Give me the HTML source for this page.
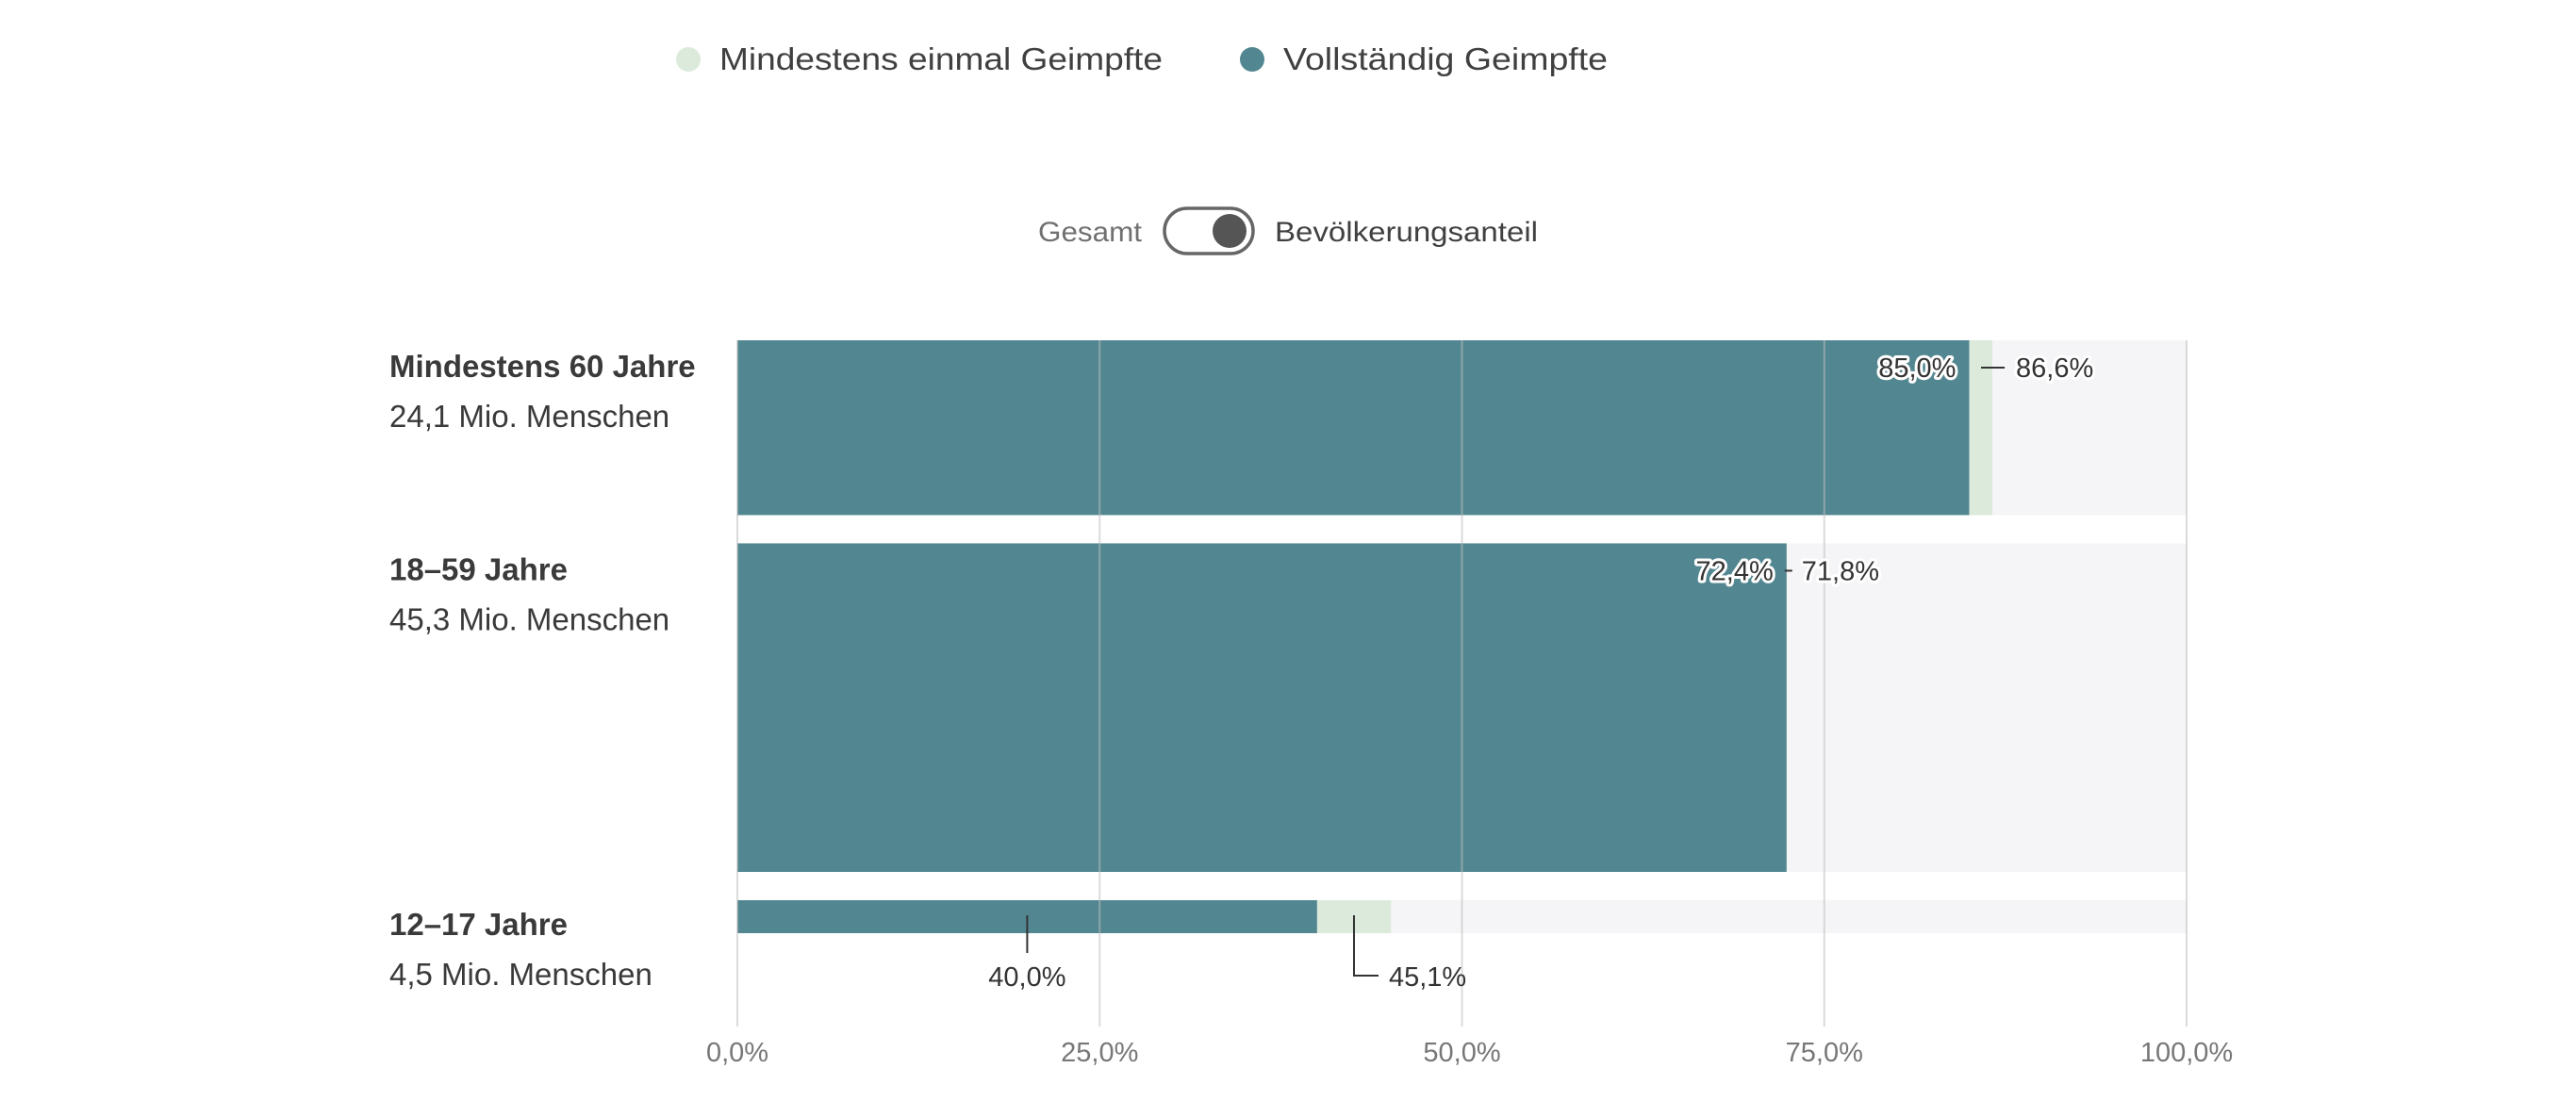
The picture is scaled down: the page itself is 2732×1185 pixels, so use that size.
<!DOCTYPE html>
<html><head><meta charset="utf-8"><style>
html,body{margin:0;padding:0;background:#fff;}
svg{display:block;font-family:"Liberation Sans",sans-serif;}
</style></head><body>
<svg id="chart" width="2732" height="1185" viewBox="0 0 2732 1185">
<g>
  <circle cx="730" cy="63" r="13" fill="#dbeadb"/>
  <text x="763" y="74" font-size="33" fill="#404040" textLength="470" lengthAdjust="spacingAndGlyphs">Mindestens einmal Geimpfte</text>
  <circle cx="1328" cy="63" r="13" fill="#528791"/>
  <text x="1361" y="74" font-size="33" fill="#404040" textLength="344" lengthAdjust="spacingAndGlyphs">Vollständig Geimpfte</text>
</g>
<g>
  <text x="1101" y="256" font-size="30" fill="#707070" textLength="110" lengthAdjust="spacingAndGlyphs">Gesamt</text>
  <rect x="1235" y="221" width="94" height="48" rx="24" fill="#fff" stroke="#666" stroke-width="3.5"/>
  <circle cx="1304" cy="245" r="18" fill="#555"/>
  <text x="1352" y="256" font-size="30" fill="#404040" textLength="279" lengthAdjust="spacingAndGlyphs">Bevölkerungsanteil</text>
</g>
<g id="plot"></g>
</svg>
<script>
const categories = ["Mindestens 60 Jahre", "18–59 Jahre", "12–17 Jahre"];
const populations = ["24,1 Mio. Menschen", "45,3 Mio. Menschen", "4,5 Mio. Menschen"];
const popValues = [24.1, 45.3, 4.5];
const firstDose = [86.6, 71.8, 45.1];
const fullyVaccinated = [85.0, 72.4, 40.0];
const tickValues = [0, 25, 50, 75, 100];
const tickLabels = ["0,0%", "25,0%", "50,0%", "75,0%", "100,0%"];

const NS = "http://www.w3.org/2000/svg";
const plot = document.getElementById("plot");
const X0 = 782, X1 = 2319;
const xs = v => X0 + v / 100 * (X1 - X0);
const bandTop = 361, bandBottom = 990, gap = 30;
const minH = 35;
function layout() {
  const total = popValues.reduce((a, b) => a + b, 0);
  const avail = bandBottom - bandTop - gap * (popValues.length - 1);
  const smallSum = popValues.filter(p => p / total * avail < minH).length * minH;
  const bigTotal = popValues.filter(p => p / total * avail >= minH).reduce((a, b) => a + b, 0);
  let y = bandTop; const out = [];
  popValues.forEach(p => {
    let h = p / total * avail < minH ? minH : p / bigTotal * (avail - smallSum);
    out.push([y, h]); y += h + gap;
  });
  return out;
}
const bands = layout();
const fmt = v => v.toFixed(1).replace(".", ",") + "%";
function mk(tag, attrs, parent) {
  const e = document.createElementNS(NS, tag);
  for (const k in attrs) e.setAttribute(k, attrs[k]);
  (parent || plot).appendChild(e);
  return e;
}
function txt(s, attrs) { const t = mk("text", attrs); t.textContent = s; return t; }

categories.forEach((c, i) => {
  const [y, h] = bands[i];
  const track = mk("rect", {x: X0, y: y, width: X1 - X0, height: h, fill: "#f5f5f7"});
  
  
  const b1 = mk("rect", {x: X0, y: y, width: xs(firstDose[i]) - X0, height: h, fill: "#dbeadb"});
  
  
  const b2 = mk("rect", {x: X0, y: y, width: xs(fullyVaccinated[i]) - X0, height: h, fill: "#528791"});
  
  
});

tickValues.forEach((t, i) => {
  const l = mk("line", {x1: xs(t), x2: xs(t), y1: bandTop, y2: 1089, stroke: "rgba(190,190,190,0.55)", "stroke-width": 2});
  
  
  const tl = txt(tickLabels[i], {x: xs(t), y: 1126, "font-size": 29, fill: "#777", "text-anchor": "middle"});
  
  
});

categories.forEach((c, i) => {
  const [y, h] = bands[i];
  const small = h < 60;
  const ly = small ? y + 37 : y + 39;
  const n = txt(c, {x: 413, y: ly, "font-size": 33, "font-weight": "bold", fill: "#3a3a3a"});
  
  
  const p = txt(populations[i], {x: 413, y: ly + 53, "font-size": 33, fill: "#3a3a3a"});
  
  
  const vf = xs(fullyVaccinated[i]), v1 = xs(firstDose[i]);
  const lblStyle = {"font-size": 29, fill: "#333", stroke: "#fff", "stroke-width": 6, "paint-order": "stroke", "stroke-linejoin": "round"};
  if (!small) {
    const ty = y + 39;
    const a = txt(fmt(fullyVaccinated[i]), Object.assign({x: vf - 14, y: ty, "text-anchor": "end"}, lblStyle));
    
    
    const d = mk("line", {x1: v1 > vf ? v1 - 12 : vf - 2, x2: v1 > vf ? v1 + 13 : vf + 6, y1: ty - 10, y2: ty - 10, stroke: "#333", "stroke-width": 2});
    
    
    const b = txt(fmt(firstDose[i]), Object.assign({x: (v1 > vf ? v1 + 25 : vf + 16), y: ty}, lblStyle));
    
    
  } else {
    const cx = (X0 + vf) / 2;
    const l1 = mk("line", {x1: cx, x2: cx, y1: y + 16, y2: y + 56, stroke: "#333", "stroke-width": 2});
    
    
    const a = txt(fmt(fullyVaccinated[i]), {x: cx, y: y + 91, "font-size": 29, fill: "#333", "text-anchor": "middle"});
    
    
    const cx2 = (vf + v1) / 2;
    const l2 = mk("polyline", {points: `${cx2},${y+16} ${cx2},${y+80} ${cx2+26},${y+80}`, fill: "none", stroke: "#333", "stroke-width": 2});
    
    
    const b = txt(fmt(firstDose[i]), {x: cx2 + 37, y: y + 91, "font-size": 29, fill: "#333"});
    
    
  }
});
</script>
</body></html>
